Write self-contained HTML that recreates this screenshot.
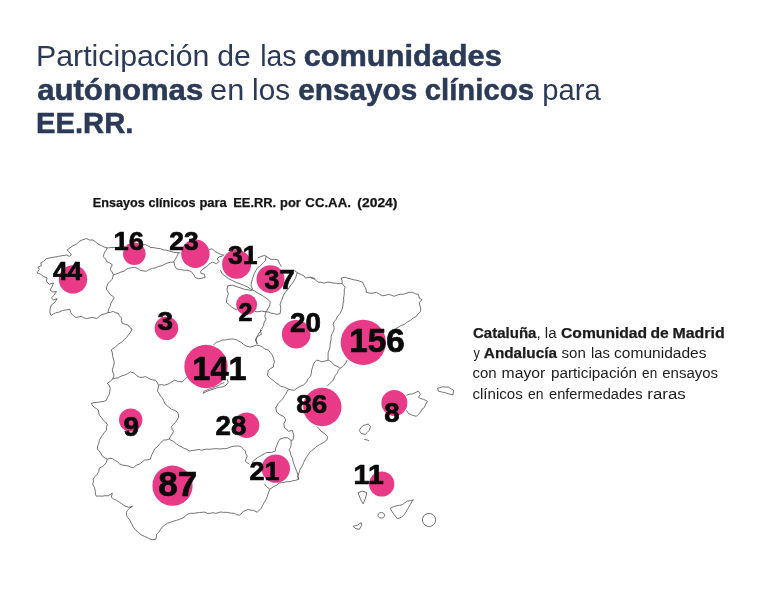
<!DOCTYPE html>
<html lang="es"><head><meta charset="utf-8"><title>Participación de las comunidades autónomas en los ensayos clínicos para EE.RR.</title>
<style>
html,body{margin:0;padding:0;background:#fff}
body{width:757px;height:595px;overflow:hidden}
svg{display:block}
text{font-family:"Liberation Sans",sans-serif;white-space:pre}
.n{font-weight:bold;fill:#0a0a0a;stroke:#0a0a0a;stroke-width:0.7px;stroke-linejoin:round}
</style></head><body>
<svg width="757" height="595" viewBox="0 0 757 595">
<rect width="757" height="595" fill="#fff"/>
<path d="M50.7 315.0L49.9 312.1L50.0 309.3L51.4 305.0L55.0 302.1L57.1 298.6L53.6 300.0L51.4 297.9L54.3 295.0L56.4 291.4L52.9 292.1L50.0 290.0L52.1 286.4L53.6 282.9L49.3 284.3L46.4 281.4L47.1 277.9L43.6 276.4L40.7 274.3L37.1 272.9L39.3 269.3L37.9 267.1L41.4 265.7L40.7 262.9L43.6 261.4L46.4 258.6L50.0 257.9L54.3 257.1L58.6 256.4L62.1 255.7L66.4 255.0L69.3 256.4L71.4 255.0L69.3 252.1L67.1 250.0L70.0 247.9L72.9 245.7L76.4 244.3L79.3 241.4L82.1 240.0L86.4 238.6L89.3 240.0L92.9 240.0L95.7 242.1L98.6 244.3L101.4 245.7L104.3 247.1L107.3 247.9M107.3 247.9L110.9 247.6L114.3 247.5L116.9 247.4L119.9 247.0L122.4 246.7L125.5 246.7L129.0 245.8L132.6 245.4L135.9 245.9L139.1 245.5L142.4 245.1L145.5 244.7L147.8 245.9L150.5 247.1M107.3 247.9L106.0 250.3L104.7 252.1L103.9 254.3L103.3 256.7L105.5 259.0L106.9 261.7L109.6 262.9L112.3 264.8L111.1 266.9L110.3 269.6L112.1 272.0L113.3 274.8L112.3 279.2L110.1 281.2L107.9 283.6L106.8 286.5L106.3 289.7L108.3 291.5L109.9 294.3L112.3 295.9L114.3 297.7L112.4 300.8L110.7 303.7L110.0 306.7L108.7 308.9L107.9 312.6M50.7 315.8L53.3 314.0L55.7 312.8L59.4 312.0L62.5 310.5L66.2 310.0L69.8 309.3L70.6 312.2L71.8 314.2L73.6 315.8L75.8 317.4L78.3 317.0L81.2 316.4L83.7 317.7L86.6 318.6L89.8 317.8L92.7 317.4L96.7 318.6L99.3 316.4L101.5 314.6L104.9 313.9L107.9 312.6L110.6 312.4L112.7 311.3L115.4 312.6L118.4 313.4L119.4 315.8L121.4 317.8L121.3 320.5L122.4 323.4L125.3 324.3L128.0 325.0L129.9 327.5L132.0 329.0L130.7 332.0L128.8 334.4L126.6 337.3L124.4 339.5L121.5 342.3L118.4 344.1M113.3 274.8L115.6 274.2L118.4 273.2L121.0 272.0L124.4 271.2L126.1 269.3L128.8 268.2L131.6 267.8L134.4 267.2L137.5 268.4L140.4 270.4L143.7 271.0L146.5 271.2L149.3 269.4L152.5 268.4L155.6 267.8L158.5 266.4L161.8 265.7L164.9 264.2L167.9 262.8L170.6 262.3L174.0 261.9M150.0 247.6L153.3 247.5L156.6 248.3L160.3 248.6L163.3 249.9L166.5 250.2L169.9 251.2L173.4 252.2L177.0 252.7L180.5 252.9M209.1 249.6L212.4 248.9L215.1 251.6L217.7 252.9L221.7 254.9L223.7 254.9M173.9 261.6L175.3 259.3L176.6 256.9L177.7 254.4L178.6 252.3M173.9 261.6L174.6 265.5L176.6 268.9L179.5 269.5L181.9 269.8L184.3 270.3L187.2 270.2L191.2 271.5L193.8 274.8L195.2 277.5L198.5 278.8L201.8 278.2L205.1 277.5L204.4 274.2L201.1 273.5L200.5 271.5L203.1 268.9L207.1 266.2L209.8 263.6L212.4 262.2L216.4 263.6L219.1 261.6L217.1 258.9L219.1 256.9L222.4 256.2L223.7 254.9M220.3 269.9L222.3 273.9L225.0 275.9L228.3 278.6L232.3 280.5L236.2 282.5L240.2 283.9L243.6 285.2L247.5 286.9L250.9 289.2L254.8 291.2L258.8 293.6L262.8 295.8L265.1 297.5L267.5 298.9L270.1 301.8L270.1 303.8L269.5 306.0L268.1 308.4L266.1 311.8M252.2 290.9L248.2 289.8L244.2 289.2L240.2 287.8L236.2 286.5L232.3 285.2L227.6 285.9L227.0 289.8L228.3 293.8L227.0 297.8L226.3 302.5L228.9 304.4L231.6 307.1L234.9 309.1L236.9 309.8M254.8 311.4L257.5 311.8L261.5 311.1L266.1 311.8M266.1 256.0L265.5 260.6L262.8 263.3L260.2 265.9L257.8 267.6L256.2 269.9L254.2 273.9L252.8 277.9L251.5 281.9L251.1 285.9L252.8 289.8M266.1 311.8L268.8 312.1L270.8 313.1L273.8 313.5L276.1 314.4L280.1 313.7L280.7 309.8L280.7 307.1L280.1 304.4L281.4 300.5L282.6 298.0L283.4 295.2L286.0 291.2L288.0 289.4L289.4 287.2L291.2 284.6L293.4 281.9L294.9 279.1L296.0 276.6L297.3 272.6M257.5 258.0L260.8 256.6L264.8 255.3L267.5 257.3L270.8 259.3L274.8 259.3L278.1 260.0L279.4 263.3L281.4 266.6M293.4 269.9L297.3 272.6L301.3 274.6L303.9 275.9L305.3 277.9L307.8 277.7L310.6 277.2L315.0 278.6M266.1 311.8L265.5 313.7L264.8 316.4L266.1 319.1L264.1 322.4L263.5 325.7L261.5 329.0M260.4 329.4L260.7 332.0L261.4 334.4L258.7 335.7L256.3 337.4L256.3 340.9L257.3 344.1M310.0 277.6L314.0 278.8L316.4 280.6L318.0 282.2L320.9 282.2L324.1 283.2L326.9 282.2L330.1 282.2L332.9 283.1L336.1 283.2L339.1 283.7L342.1 283.6L342.1 280.7L341.1 278.2L345.1 277.2L347.7 278.2L350.2 278.8L353.4 279.7L356.2 280.2L359.3 281.0L362.6 282.2L363.6 284.8L365.2 287.2L366.2 289.9L366.2 292.3L370.2 293.3L373.1 293.1L376.3 292.3L379.4 294.1L382.3 295.7L385.7 295.4L388.3 294.3L391.3 295.2L394.3 296.3L397.4 295.0L400.4 294.3L403.6 294.2L406.4 293.3L409.0 292.3L412.4 292.3L415.4 293.8L418.4 294.3L419.4 298.3L422.0 299.7L419.4 302.3L419.7 305.1L420.4 307.3L420.8 310.1L420.0 312.3L418.0 313.9L416.4 316.4L413.1 318.1L410.4 320.4L406.9 322.2L404.4 324.4L401.2 325.4L398.4 327.4L394.3 329.4M342.1 283.6L345.1 287.2L344.3 289.6L344.3 292.5L344.1 295.3L343.5 298.1L343.8 300.9L343.1 303.3L342.8 306.2L342.1 309.3L340.1 313.4L337.8 316.0L336.1 319.4L334.1 321.7L333.1 324.4L334.0 326.6L334.1 329.4L333.1 331.9L331.7 334.4L331.0 336.7L331.1 339.5L330.1 344.1M118.4 344.1L115.3 347.1L111.3 349.7L112.3 352.7L112.7 356.1L113.7 359.9L114.3 363.1L113.5 366.3L112.3 369.2L112.7 372.0L113.9 374.2L113.8 376.6L112.3 379.2M112.3 379.2L115.4 378.2L118.4 377.8L121.1 376.1L124.4 375.2L127.4 373.8L130.4 371.8L134.4 373.2L136.8 375.7L139.4 377.2L142.6 377.3L145.5 376.6L148.2 378.1L150.5 379.2L152.6 379.9L155.5 380.2L157.3 382.5L158.5 385.2L161.3 384.6L164.5 385.2L167.8 384.2L170.6 382.6L174.6 380.2L178.3 381.4L182.0 381.8M112.3 379.2L110.3 381.4L107.3 383.2L109.2 385.3L110.3 388.2L109.8 391.5L109.3 394.3L107.5 397.2L106.3 400.3L103.9 401.4L100.8 401.7L98.3 402.3L94.8 402.5L91.2 403.3L92.5 405.5L94.3 407.3L96.4 408.6L98.3 410.3L98.7 412.6L99.3 415.3L101.6 417.5L103.3 420.4L105.6 422.1L107.3 424.4L106.5 427.5L106.3 430.4L104.1 432.8L102.3 435.4L100.6 437.9L99.3 440.4L98.9 443.3L97.7 445.8L97.3 449.1M158.5 385.2L158.1 388.3L157.5 391.2L159.3 393.6L160.5 396.3L162.5 397.9L163.5 400.3L164.6 403.2L166.5 405.3L168.9 407.2L171.6 409.3L174.7 410.4L177.6 412.3L178.5 415.0L178.6 417.3L177.1 420.0L175.6 422.4L173.4 424.3L171.6 426.4L172.2 429.3L173.6 431.4L172.3 433.7L170.6 436.4L169.2 439.0M182.0 381.8L184.1 380.2L187.1 377.2M213.2 345.1L216.2 342.4L219.4 341.6L222.2 340.0L225.0 340.0L227.4 339.5L230.2 339.0L233.5 339.1L236.3 339.6L238.6 341.0L241.3 342.4L243.8 344.6L246.3 346.1L250.3 347.1L253.1 346.3L256.3 345.1M203.1 393.3L207.1 391.2L210.1 390.2L213.2 389.2L216.8 387.9L220.2 387.2L223.1 386.8L226.2 385.2L228.2 382.2L227.2 379.2M203.1 393.3L204.1 391.2L207.4 389.8L210.2 388.6L213.0 387.9L215.7 386.5L218.2 385.8L220.8 383.8L224.2 382.6M257.3 344.1L255.3 340.0L257.0 337.0L258.4 334.0L260.2 331.5L262.4 330.0M256.3 345.1L259.6 345.6L262.4 347.1L264.9 349.0L268.4 350.1L270.3 352.6L272.4 355.1L273.6 358.5L274.4 362.1L273.6 364.4L273.4 367.1L270.7 368.4L268.4 370.2L267.9 372.4L267.4 375.2L269.1 377.2L271.4 379.2L274.1 381.1L276.4 383.2L278.8 384.4L280.4 386.2L284.5 387.2L288.5 389.2M288.5 389.2L291.4 389.8L294.5 390.2L297.3 388.0L300.5 386.2L303.7 384.8L306.5 382.2L308.0 378.9L310.6 376.2L311.3 373.2L311.6 370.2L312.6 367.1L313.6 364.1L314.8 362.0L316.6 360.1L319.3 360.8L322.0 362.1M288.5 389.2L286.9 391.9L285.5 394.3L284.1 396.6L282.4 399.3L280.3 401.1L278.4 403.3L276.8 406.0L275.4 408.3M330.1 344.1L330.0 347.4L329.1 350.1L328.1 352.9L328.1 356.1L328.1 360.1L330.1 361.1L332.4 362.8L334.1 365.1L337.1 366.3L340.1 368.2M328.1 360.1L325.4 360.9L322.0 361.7M347.1 360.1L345.8 362.8L344.1 365.1L342.6 366.8L340.1 368.2L338.4 370.4L337.1 373.2L335.2 375.6L334.1 378.2L332.7 380.9L330.1 383.2L327.1 386.2M406.4 395.3L409.4 394.2L412.4 393.9L415.2 392.6L418.4 391.2L420.4 394.3L418.4 397.3L420.6 398.6L423.5 399.3L427.5 401.3L425.7 404.1L424.5 407.3L422.0 409.4L420.4 412.3L418.3 414.3L416.4 416.3L412.4 415.3L408.4 413.3L406.4 410.3M437.5 388.2L439.9 387.7L442.5 386.8L445.5 387.0L448.6 387.2L450.9 388.7L453.6 390.2L453.0 394.7L448.6 393.9L445.4 392.8L442.5 392.2L438.5 391.2ZM359.2 430.4L361.1 427.6L363.2 425.4L365.8 424.8L368.2 424.0L370.6 426.4L369.2 430.4L367.2 432.5L365.2 434.4L361.2 433.4ZM364.2 439.4L367.2 440.0L369.2 441.0M97.3 449.0L99.3 451.0L101.1 453.9L103.3 457.1L107.3 459.1M107.3 459.1L109.6 458.5L112.3 458.5L114.6 460.2L117.3 461.7L119.6 463.9L122.4 465.1L125.1 465.4L128.4 466.1L130.9 467.3L133.4 467.7L136.3 465.3L139.4 464.1L142.2 462.0L144.5 460.1L147.8 459.8L150.5 459.1L151.1 456.3L152.1 454.1L153.4 451.9L154.5 449.0L157.3 446.8L159.5 444.0L161.7 442.0L163.5 440.0L166.1 440.0L169.2 439.0M169.2 439.0L170.6 440.0L173.8 441.6L176.6 444.0L179.0 445.7L182.0 447.0M107.3 459.1L106.4 462.2L104.3 465.1L102.1 466.7L99.3 468.1L98.8 471.3L97.3 474.1L94.9 476.6L93.3 479.2L93.4 481.8L92.7 484.2L94.4 487.3L95.3 491.2L95.3 493.9L96.3 496.2L99.5 496.0L102.3 496.2L105.0 495.7L108.3 495.8L112.3 493.2L111.3 497.2L113.6 499.0L116.3 500.2L119.6 502.3L122.4 504.3L125.0 506.0L128.4 507.3L132.4 506.3L129.8 508.0L127.4 510.3L126.4 512.5L126.4 515.3L127.7 517.6L129.4 519.3L131.4 523.3L133.4 527.3L135.8 530.3L138.4 532.4L141.0 534.7L144.5 536.4L147.3 537.6L149.5 538.8L152.1 539.6L155.5 539.4L156.4 537.0L156.5 534.4L158.8 532.2L160.5 529.4L162.0 527.2L164.5 525.3L167.4 523.3L170.6 522.3L173.4 521.2L176.6 520.3L179.3 519.4L182.0 518.3M182.0 447.0L184.1 448.4L187.0 449.3L189.1 451.0L192.3 450.5L196.1 450.0L199.0 449.4L201.3 450.3L204.1 449.6L206.6 449.1L209.5 449.3L212.2 449.0L214.8 448.7L217.3 448.7L220.2 449.0L223.1 448.6L225.4 448.7L228.2 448.0L231.0 446.8L233.7 446.2L236.3 446.0L238.8 446.0L241.3 447.0L243.2 448.8L245.3 451.0L245.8 453.8L247.3 456.1L246.1 458.7L245.3 461.1L247.1 462.8L249.3 464.1M182.0 518.3L185.1 516.6L187.1 514.3L190.3 513.3L194.1 513.3L197.0 512.8L199.5 512.6L202.1 512.3L204.9 512.1L207.3 513.5L210.2 513.3L212.9 512.7L215.7 513.4L218.2 512.7L220.6 512.0L223.6 512.4L226.2 512.3L228.9 512.8L231.3 513.2L234.3 513.3L236.4 514.5L239.3 515.3L241.4 513.6L243.3 511.3L246.1 510.4L248.3 509.3L250.8 510.3L253.3 510.3L257.3 512.3L259.1 510.2L261.4 508.3L262.6 505.4L264.4 502.2L266.0 499.5L267.4 496.2L268.4 492.9L269.8 489.2M275.9 407.3L276.5 412.0L279.8 414.6L283.8 416.6L285.8 419.9L283.8 423.9L284.5 427.9L286.7 429.4L288.5 431.2L292.5 430.5L293.0 432.9L293.8 435.2L293.1 439.8L291.1 440.5M291.1 440.5L287.8 437.8L283.8 437.8L279.8 439.2L277.8 442.5L276.5 446.5L275.5 448.7L275.2 451.1L271.2 452.5L266.6 452.5L264.5 453.7L261.9 455.1L259.6 456.5L257.3 457.8L253.9 460.4L252.0 463.1M291.1 440.5L291.1 445.2L290.4 447.6L289.1 449.8L290.2 451.7L290.5 454.4L292.5 458.4L293.0 461.4L293.8 463.7L294.8 466.6L295.8 469.1L296.9 471.8L297.8 474.4L298.4 479.0M317.0 426.6L319.1 428.7L321.0 431.2L325.0 433.9L327.6 436.5L327.0 439.8L323.7 442.5L319.7 444.5L315.7 447.1L313.9 449.0L311.7 450.5L309.7 452.5L308.4 454.4L305.7 458.4L303.7 462.4L302.6 465.2L301.1 467.7L299.9 470.1L299.1 472.4L297.8 476.4L298.4 479.0M299.3 479.1L295.3 480.4L292.5 480.8L289.9 481.7L286.9 481.6L284.5 482.4L281.7 482.7L279.1 483.1L276.9 485.1L273.8 486.5L271.8 487.9L269.7 489.1M264.4 483.8L266.4 486.5L269.7 489.1M358.2 492.6L362.6 491.2L366.8 492.6L366.0 496.0L365.2 499.2L364.1 501.4L363.2 503.9L361.5 501.2L360.2 498.2L359.1 495.5ZM384.7 515.3L384.2 516.7L383.0 517.7L381.3 518.1L379.6 517.7L378.3 516.7L377.9 515.3L378.3 513.9L379.6 512.9L381.3 512.5L383.0 512.9L384.2 513.9ZM390.3 508.3L393.4 506.7L396.3 505.9L399.5 505.3L402.4 504.7L404.7 502.8L407.4 501.2L410.4 500.7L413.4 499.8L411.8 501.8L410.4 504.3L409.0 506.9L407.4 509.3L406.1 511.9L404.4 514.3L401.4 517.3L397.3 518.7L395.6 516.4L393.9 514.3L391.9 511.3ZM435.7 519.9L435.0 522.8L433.2 525.1L430.6 526.4L427.6 526.4L424.9 525.1L423.1 522.8L422.4 519.9L423.1 517.0L424.9 514.7L427.6 513.5L430.6 513.5L433.2 514.7L435.0 517.0ZM353.2 526.3L357.2 525.3L361.2 522.7L361.8 525.3L359.2 529.4L355.2 528.4Z" fill="none" stroke="#585858" stroke-width="0.85" stroke-linejoin="round"/>
<circle cx="73.0" cy="279.4" r="14.2" fill="#e83283" fill-opacity="0.96"/>
<circle cx="134.3" cy="253.8" r="11.3" fill="#e83283" fill-opacity="0.96"/>
<circle cx="195.4" cy="253.8" r="14.2" fill="#e83283" fill-opacity="0.96"/>
<circle cx="236.6" cy="264.3" r="14.5" fill="#e83283" fill-opacity="0.96"/>
<circle cx="270.5" cy="279.2" r="14.0" fill="#e83283" fill-opacity="0.96"/>
<circle cx="246.6" cy="304.6" r="10.5" fill="#e83283" fill-opacity="0.96"/>
<circle cx="166.4" cy="328.3" r="11.8" fill="#e83283" fill-opacity="0.96"/>
<circle cx="206.0" cy="366.5" r="21.7" fill="#e83283" fill-opacity="0.96"/>
<circle cx="296.2" cy="334.2" r="14.3" fill="#e83283" fill-opacity="0.96"/>
<circle cx="363.3" cy="342.4" r="22.6" fill="#e83283" fill-opacity="0.96"/>
<circle cx="322.3" cy="407.0" r="19.2" fill="#e83283" fill-opacity="0.96"/>
<circle cx="394.4" cy="403.0" r="13.0" fill="#e83283" fill-opacity="0.96"/>
<circle cx="130.7" cy="420.1" r="11.7" fill="#e83283" fill-opacity="0.96"/>
<circle cx="246.6" cy="425.3" r="12.7" fill="#e83283" fill-opacity="0.96"/>
<circle cx="275.8" cy="468.6" r="14.2" fill="#e83283" fill-opacity="0.96"/>
<circle cx="172.5" cy="485.7" r="20.1" fill="#e83283" fill-opacity="0.96"/>
<circle cx="381.7" cy="484.0" r="12.6" fill="#e83283" fill-opacity="0.96"/>
<text class="n" x="52.95" y="279.50" font-size="26.0" textLength="29.08" lengthAdjust="spacingAndGlyphs">44</text>
<text class="n" x="113.56" y="250.35" font-size="26.7" textLength="30.35" lengthAdjust="spacingAndGlyphs">16</text>
<text class="n" x="169.26" y="250.35" font-size="26.7" textLength="29.42" lengthAdjust="spacingAndGlyphs">23</text>
<text class="n" x="228.09" y="263.65" font-size="26.2" textLength="29.51" lengthAdjust="spacingAndGlyphs">31</text>
<text class="n" x="264.39" y="288.65" font-size="26.9" textLength="30.46" lengthAdjust="spacingAndGlyphs">37</text>
<text class="n" x="238.41" y="320.80" font-size="26.7" textLength="13.97" lengthAdjust="spacingAndGlyphs">2</text>
<text class="n" x="157.57" y="330.05" font-size="26.7" textLength="15.53" lengthAdjust="spacingAndGlyphs">3</text>
<text class="n" x="192.30" y="379.70" font-size="33.4" textLength="54.29" lengthAdjust="spacingAndGlyphs">141</text>
<text class="n" x="289.94" y="332.05" font-size="27.7" textLength="30.97" lengthAdjust="spacingAndGlyphs">20</text>
<text class="n" x="349.26" y="352.45" font-size="33.3" textLength="55.40" lengthAdjust="spacingAndGlyphs">156</text>
<text class="n" x="296.17" y="413.45" font-size="26.7" textLength="30.96" lengthAdjust="spacingAndGlyphs">86</text>
<text class="n" x="384.29" y="422.15" font-size="27.2" textLength="15.35" lengthAdjust="spacingAndGlyphs">8</text>
<text class="n" x="123.64" y="435.55" font-size="27.7" textLength="15.58" lengthAdjust="spacingAndGlyphs">9</text>
<text class="n" x="215.54" y="434.75" font-size="27.3" textLength="30.80" lengthAdjust="spacingAndGlyphs">28</text>
<text class="n" x="249.52" y="479.70" font-size="26.3" textLength="30.01" lengthAdjust="spacingAndGlyphs">21</text>
<text class="n" x="158.25" y="495.55" font-size="35.0" textLength="38.99" lengthAdjust="spacingAndGlyphs">87</text>
<text class="n" x="353.62" y="483.60" font-size="27.2" textLength="30.12" lengthAdjust="spacingAndGlyphs">11</text>
<text x="36.03" y="66.10" font-size="28.8" fill="#2b3a57" textLength="173.34" lengthAdjust="spacingAndGlyphs">Participación</text>
<text x="217.19" y="66.10" font-size="28.8" fill="#2b3a57" textLength="33.55" lengthAdjust="spacingAndGlyphs">de</text>
<text x="260.13" y="66.10" font-size="28.8" fill="#2b3a57" textLength="36.32" lengthAdjust="spacingAndGlyphs">las</text>
<text x="303.67" y="66.10" font-size="28.8" font-weight="bold" stroke="#2b3a57" stroke-width="0.5" fill="#2b3a57" textLength="198.14" lengthAdjust="spacingAndGlyphs">comunidades</text>
<text x="37.19" y="100.00" font-size="28.8" font-weight="bold" stroke="#2b3a57" stroke-width="0.5" fill="#2b3a57" textLength="166.01" lengthAdjust="spacingAndGlyphs">autónomas</text>
<text x="210.07" y="100.00" font-size="28.8" fill="#2b3a57" textLength="34.13" lengthAdjust="spacingAndGlyphs">en</text>
<text x="252.14" y="100.00" font-size="28.8" fill="#2b3a57" textLength="37.96" lengthAdjust="spacingAndGlyphs">los</text>
<text x="298.31" y="100.00" font-size="28.8" font-weight="bold" stroke="#2b3a57" stroke-width="0.5" fill="#2b3a57" textLength="119.00" lengthAdjust="spacingAndGlyphs">ensayos</text>
<text x="424.73" y="100.00" font-size="28.8" font-weight="bold" stroke="#2b3a57" stroke-width="0.5" fill="#2b3a57" textLength="109.23" lengthAdjust="spacingAndGlyphs">clínicos</text>
<text x="542.27" y="100.00" font-size="28.8" fill="#2b3a57" textLength="58.42" lengthAdjust="spacingAndGlyphs">para</text>
<text x="35.97" y="132.90" font-size="28.8" font-weight="bold" stroke="#2b3a57" stroke-width="0.5" fill="#2b3a57" textLength="97.37" lengthAdjust="spacingAndGlyphs">EE.RR.</text>
<text x="92.75" y="206.90" font-size="12.6" font-weight="bold" stroke="#151515" stroke-width="0.25" fill="#151515" textLength="52.02" lengthAdjust="spacingAndGlyphs">Ensayos</text>
<text x="148.50" y="206.90" font-size="12.6" font-weight="bold" stroke="#151515" stroke-width="0.25" fill="#151515" textLength="47.16" lengthAdjust="spacingAndGlyphs">clínicos</text>
<text x="199.43" y="206.90" font-size="12.6" font-weight="bold" stroke="#151515" stroke-width="0.25" fill="#151515" textLength="27.43" lengthAdjust="spacingAndGlyphs">para</text>
<text x="233.23" y="206.90" font-size="12.6" font-weight="bold" stroke="#151515" stroke-width="0.25" fill="#151515" textLength="42.93" lengthAdjust="spacingAndGlyphs">EE.RR.</text>
<text x="280.13" y="206.90" font-size="12.6" font-weight="bold" stroke="#151515" stroke-width="0.25" fill="#151515" textLength="20.77" lengthAdjust="spacingAndGlyphs">por</text>
<text x="305.38" y="206.90" font-size="12.6" font-weight="bold" stroke="#151515" stroke-width="0.25" fill="#151515" textLength="45.46" lengthAdjust="spacingAndGlyphs">CC.AA.</text>
<text x="357.38" y="206.90" font-size="12.6" font-weight="bold" stroke="#151515" stroke-width="0.25" fill="#151515" textLength="40.05" lengthAdjust="spacingAndGlyphs">(2024)</text>
<text x="472.99" y="337.70" font-size="14.7" font-weight="bold" stroke="#1c1c1c" stroke-width="0.25" fill="#1c1c1c" textLength="63.49" lengthAdjust="spacingAndGlyphs">Cataluña</text>
<text x="536.41" y="337.70" font-size="14.7" fill="#1c1c1c" textLength="20.18" lengthAdjust="spacingAndGlyphs">, la</text>
<text x="561.07" y="337.70" font-size="14.7" font-weight="bold" stroke="#1c1c1c" stroke-width="0.25" fill="#1c1c1c" textLength="86.03" lengthAdjust="spacingAndGlyphs">Comunidad</text>
<text x="650.47" y="337.70" font-size="14.7" font-weight="bold" stroke="#1c1c1c" stroke-width="0.25" fill="#1c1c1c" textLength="18.25" lengthAdjust="spacingAndGlyphs">de</text>
<text x="672.52" y="337.70" font-size="14.7" font-weight="bold" stroke="#1c1c1c" stroke-width="0.25" fill="#1c1c1c" textLength="52.16" lengthAdjust="spacingAndGlyphs">Madrid</text>
<text x="473.50" y="357.80" font-size="14.7" fill="#1c1c1c" textLength="6.38" lengthAdjust="spacingAndGlyphs">y</text>
<text x="483.88" y="357.80" font-size="14.7" font-weight="bold" stroke="#1c1c1c" stroke-width="0.25" fill="#1c1c1c" textLength="73.07" lengthAdjust="spacingAndGlyphs">Andalucía</text>
<text x="561.59" y="357.80" font-size="14.7" fill="#1c1c1c" textLength="24.27" lengthAdjust="spacingAndGlyphs">son</text>
<text x="590.99" y="357.80" font-size="14.7" fill="#1c1c1c" textLength="18.94" lengthAdjust="spacingAndGlyphs">las</text>
<text x="614.01" y="357.80" font-size="14.7" fill="#1c1c1c" textLength="92.56" lengthAdjust="spacingAndGlyphs">comunidades</text>
<text x="472.44" y="378.30" font-size="14.7" fill="#1c1c1c" textLength="24.12" lengthAdjust="spacingAndGlyphs">con</text>
<text x="501.63" y="378.30" font-size="14.7" fill="#1c1c1c" textLength="43.60" lengthAdjust="spacingAndGlyphs">mayor</text>
<text x="550.96" y="378.30" font-size="14.7" fill="#1c1c1c" textLength="86.05" lengthAdjust="spacingAndGlyphs">participación</text>
<text x="642.11" y="378.30" font-size="14.7" fill="#1c1c1c" textLength="15.07" lengthAdjust="spacingAndGlyphs">en</text>
<text x="662.23" y="378.30" font-size="14.7" fill="#1c1c1c" textLength="55.84" lengthAdjust="spacingAndGlyphs">ensayos</text>
<text x="472.43" y="398.60" font-size="14.7" fill="#1c1c1c" textLength="50.37" lengthAdjust="spacingAndGlyphs">clínicos</text>
<text x="528.09" y="398.60" font-size="14.7" fill="#1c1c1c" textLength="15.51" lengthAdjust="spacingAndGlyphs">en</text>
<text x="549.05" y="398.60" font-size="14.7" fill="#1c1c1c" textLength="93.40" lengthAdjust="spacingAndGlyphs">enfermedades</text>
<text x="647.35" y="398.60" font-size="14.7" fill="#1c1c1c" textLength="38.38" lengthAdjust="spacingAndGlyphs">raras</text>
</svg>
</body></html>
